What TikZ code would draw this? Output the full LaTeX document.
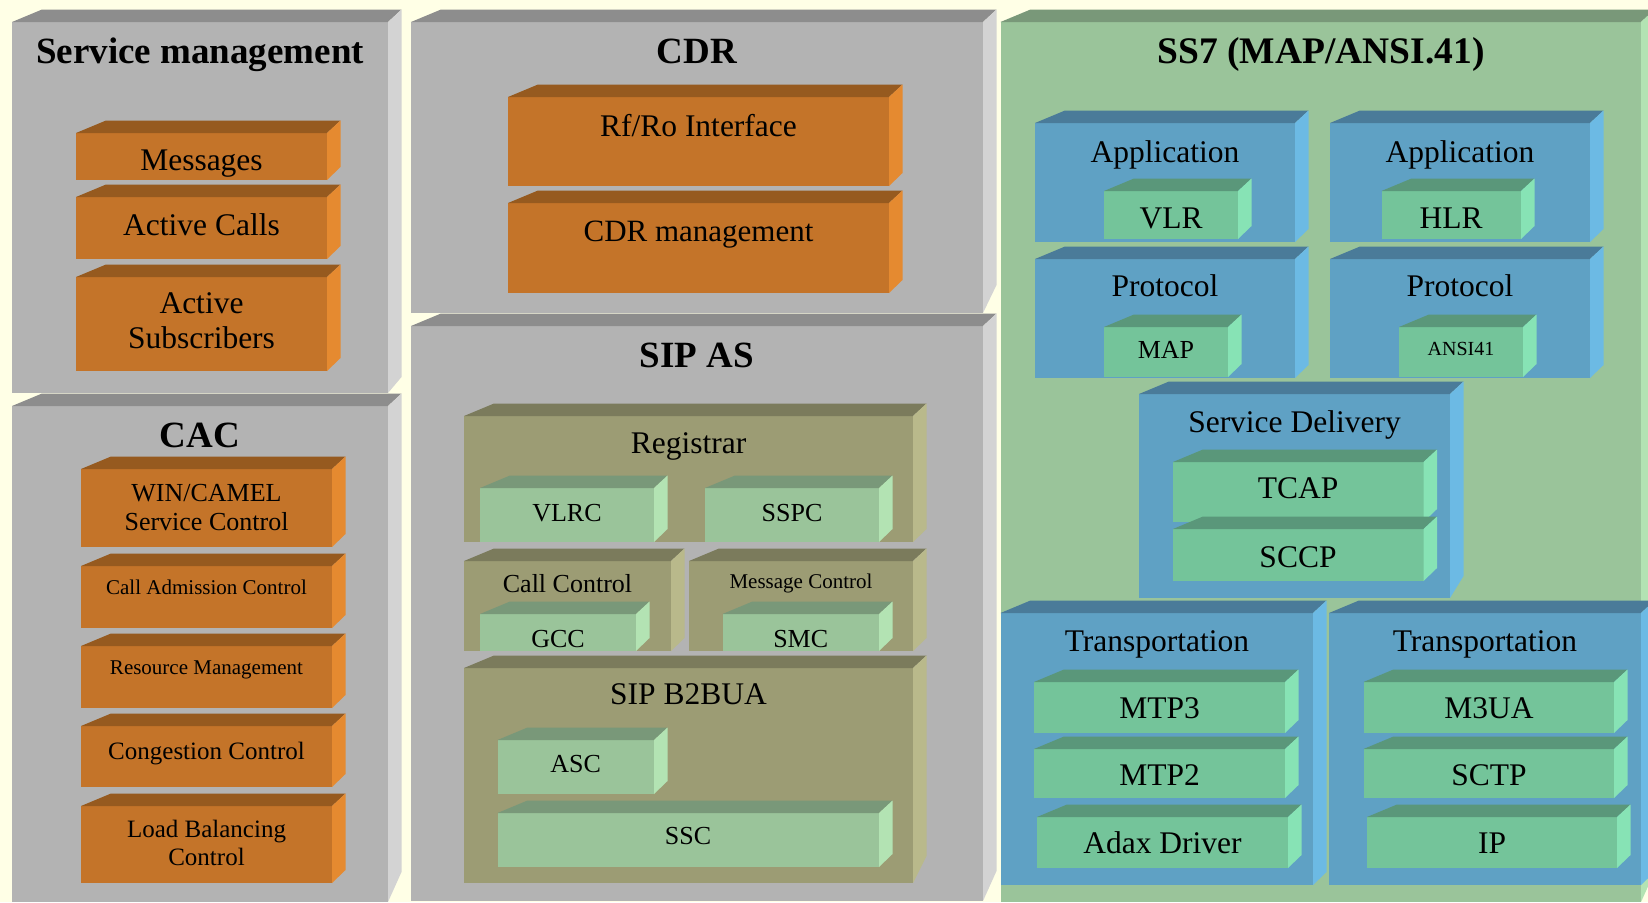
\documentclass[tikz,border=0pt]{standalone}
\usepackage{fontspec}
\setmainfont{Liberation Serif}

% face colours: F = front, T = top, S = right side
\definecolor{bg}{HTML}{FFFFE6}
\definecolor{gyF}{HTML}{B3B3B3}\definecolor{gyT}{HTML}{8D8D8D}\definecolor{gyS}{HTML}{D3D3D3}
\definecolor{orF}{HTML}{C47429}\definecolor{orT}{HTML}{965A1F}\definecolor{orS}{HTML}{E58A30}
\definecolor{olF}{HTML}{9C9C74}\definecolor{olT}{HTML}{7B7B5C}\definecolor{olS}{HTML}{B9B98B}
\definecolor{lgF}{HTML}{9AC49A}\definecolor{lgT}{HTML}{799879}\definecolor{lgS}{HTML}{B3E3B3}
\definecolor{blF}{HTML}{5FA1C4}\definecolor{blT}{HTML}{4A7B99}\definecolor{blS}{HTML}{6CBAE4}
\definecolor{tlF}{HTML}{74C49A}\definecolor{tlT}{HTML}{5A977A}\definecolor{tlS}{HTML}{87E3B5}

% extrusion of the 3D slabs
\def\slabA{30}\def\slabT{12.5}\def\slabD{13.5}
% \slab[bottom slant]{colour}{x0}{y0}{x1}{y1}: front face from (x0,y0) to (x1,y1)
\newcommand\slab[6][13]{%
  \fill[#2F] (#3,#4) rectangle (#5,#6);
  \fill[#2T] (#3,#4) -- (#3+\slabA,#4-\slabT) -- (#5+\slabD,#4-\slabT) -- (#5,#4) -- cycle;
  \fill[#2S] (#5,#4) -- (#5+\slabD,#4-\slabT) -- (#5+\slabD,#6-#1) -- (#5,#6) -- cycle;
}

\tikzset{
  lab/.style={anchor=base, inner sep=0pt, text=black},
  ttl/.style={lab, font=\fontsize{37}{40}\selectfont\bfseries},
  fA/.style={lab, font=\fontsize{31.5}{35}\selectfont},
  fB/.style={lab, font=\fontsize{26}{28}\selectfont},
  fC/.style={lab, font=\fontsize{21}{24}\selectfont},
  fD/.style={lab, font=\fontsize{25}{28}\selectfont},
  fE/.style={lab, font=\fontsize{31.5}{34}\selectfont},
}

\begin{document}
\begin{tikzpicture}[x=1pt, y=-1pt]
\fill[bg] (0,0) rectangle (1648,902);
\useasboundingbox (0,0) rectangle (1648,902);
\clip (0,0) rectangle (1648,902);

% ---------- Service management ----------
\slab[16]{gy}{12}{22}{388}{393}
\slab{or}{76}{133}{327}{180}
\slab{or}{76}{197}{327}{259}
\slab{or}{76}{277}{327}{371}
\node[ttl] (tSM) at (200,63) {Service management};
\node[fA] (sMsg) at (201.5,170) {Messages};
\node[fA] (sCalls) at (201.5,235) {Active Calls};
\node[fA] (sSubA) at (201.5,313) {Active};
\node[fA] (sSubB) at (201.5,348) {Subscribers};

% ---------- CAC ----------
\slab[30]{gy}{12}{406}{388}{902}
\slab{or}{81}{469}{332}{547}
\slab{or}{81}{566}{332}{628}
\slab{or}{81}{646}{332}{708}
\slab{or}{81}{726}{332}{787}
\slab{or}{81}{806}{332}{883}
\node[ttl] (tCAC) at (200,447) {CAC};
\node[fB] (cWinA) at (206.5,501.7) {WIN/CAMEL};
\node[fB] (cWinB) at (206.5,530) {Service Control};
\node[fC] (cAdm) at (206.5,594) {Call Admission Control};
\node[fC] (cRes) at (206.5,674) {Resource Management};
\node[fD] (cCong) at (206.5,759) {Congestion Control};
\node[fD] (cLbA) at (206.5,837.5) {Load Balancing};
\node[fD] (cLbB) at (206.5,865) {Control};

% ---------- CDR ----------
\slab[28]{gy}{411}{22}{983}{313}
\slab{or}{508}{97}{889}{186}
\slab{or}{508}{203}{889}{293}
\node[ttl] (tCDR) at (697,63) {CDR};
\node[fE] (dRf) at (698.5,136) {Rf/Ro Interface};
\node[fE, font=\fontsize{31}{34}\selectfont] (dMgmt) at (698.5,241) {CDR management};

% ---------- SIP AS ----------
\slab[30]{gy}{411}{326}{983}{901}
\node[ttl] (tSIP) at (697,367) {SIP AS};
\slab{ol}{464}{416}{913}{542}
\slab{lg}{480}{488}{654}{542}
\slab{lg}{705}{488}{879}{542}
\node[fA] (pReg) at (688.5,453) {Registrar};
\node[fB] (pVlrc) at (567,521) {VLRC};
\node[fB] (pSspc) at (792,521) {SSPC};
\slab{ol}{464}{561}{671}{651}
\slab{ol}{689}{561}{913}{651}
\slab{lg}{480}{614}{636}{651}
\slab{lg}{722.5}{614}{879}{651}
\node[fB] (pCC) at (567.5,592) {Call Control};
\node[fC] (pMC) at (801,588) {Message Control};
\node[fB] (pGcc) at (558,647) {GCC};
\node[fB] (pSmc) at (800.7,647) {SMC};
\slab[27]{ol}{464}{668}{913}{883}
\slab{lg}{497.5}{740}{654}{794}
\slab{lg}{497.5}{813}{879}{867}
\node[fA] (pB2b) at (688.5,704) {SIP B2BUA};
\node[fB] (pAsc) at (575.7,772) {ASC};
\node[fB] (pSsc) at (688,844) {SSC};

% ---------- SS7 ----------
\slab[30]{lg}{1000.5}{22}{1641}{902}
\node[ttl, font=\fontsize{37.5}{40}\selectfont\bfseries] (tSS7) at (1321,63) {SS7 (MAP/ANSI.41)};
\slab{bl}{1035}{123}{1295}{242}
\slab{bl}{1330}{123}{1590}{242}
\slab{tl}{1104}{191}{1238}{239}
\slab{tl}{1381.5}{191}{1521}{239}
\node[fA] (aAppL) at (1165,162) {Application};
\node[fA] (aAppR) at (1460,162) {Application};
\node[fA] (aVlr) at (1171,228) {VLR};
\node[fA] (aHlr) at (1451,228) {HLR};
\slab{bl}{1035}{259}{1295}{378}
\slab{bl}{1330}{259}{1590}{378}
\slab{tl}{1104}{327}{1228}{377}
\slab{tl}{1399}{327}{1523}{377}
\node[fA] (aProL) at (1165,296) {Protocol};
\node[fA] (aProR) at (1460,296) {Protocol};
\node[fB] (aMap) at (1166,358) {MAP};
\node[fC, font=\fontsize{20}{22}\selectfont] (aAnsi) at (1461,355) {ANSI41};
\slab[22]{bl}{1139}{394}{1450}{598}
\slab{tl}{1173}{462}{1423.5}{522}
\slab{tl}{1173}{529}{1423.5}{581}
\node[fA] (aSD) at (1294.5,432) {Service Delivery};
\node[fA] (aTcap) at (1298,498) {TCAP};
\node[fA] (aSccp) at (1298,567) {SCCP};
\slab{bl}{1000.5}{613}{1313}{885}
\slab{bl}{1329}{613}{1641}{885}
\slab{tl}{1034}{682}{1285}{733}
\slab{tl}{1034}{749}{1285}{798}
\slab{tl}{1037}{817}{1288}{868}
\slab{tl}{1363.5}{682}{1614}{733}
\slab{tl}{1363.5}{749}{1614}{798}
\slab{tl}{1367}{817}{1617}{868}
\node[fA] (aTrL) at (1157,651) {Transportation};
\node[fA] (aTrR) at (1485,651) {Transportation};
\node[fA] (aMtp3) at (1159.5,718) {MTP3};
\node[fA] (aMtp2) at (1159.5,785) {MTP2};
\node[fA] (aAdax) at (1162.5,853) {Adax Driver};
\node[fA] (aM3ua) at (1489,718) {M3UA};
\node[fA] (aSctp) at (1489,785) {SCTP};
\node[fA] (aIp) at (1492,853) {IP};
\end{tikzpicture}
\end{document}
